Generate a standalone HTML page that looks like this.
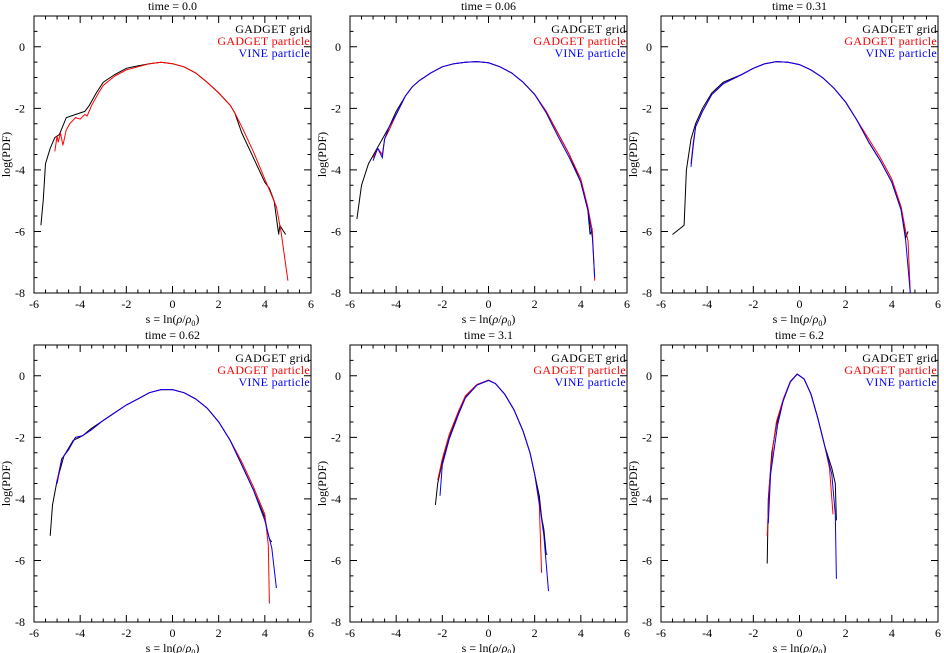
<!DOCTYPE html>
<html><head><meta charset="utf-8"><style>
html,body{margin:0;padding:0;background:#fff}
svg{display:block}
text{font-family:"Liberation Serif",serif;font-size:12px}
</style></head><body>
<svg id="fig" width="944" height="653" viewBox="0 0 944 653" xmlns="http://www.w3.org/2000/svg"></svg>
<script>
const panelTitles=["time = 0.0","time = 0.06","time = 0.31","time = 0.62","time = 3.1","time = 6.2"];
const xTicks=[-6,-4,-2,0,2,4,6];
const yTicks=[0,-2,-4,-6,-8];
const seriesNames=["GADGET grid","GADGET particle","VINE particle"];
const seriesColors=["#000","#f00","#00f"];
const grid0=[[-5.7,-5.8],[-5.6,-5.0],[-5.5,-3.8],[-5.3,-3.3],[-5.1,-2.95],[-4.9,-2.85],[-4.6,-2.3],[-4.2,-2.2],[-3.8,-2.1],[-3.6,-1.9],[-3.3,-1.5],[-3,-1.15],[-2.5,-0.9],[-2,-0.7],[-1.5,-0.62],[-1,-0.55],[-0.5,-0.5],[0,-0.55],[0.5,-0.65],[1,-0.85],[1.5,-1.15],[2,-1.5],[2.5,-1.9],[2.7,-2.15],[3,-2.8],[3.5,-3.6],[4,-4.4],[4.2,-4.6],[4.4,-5.0],[4.6,-6.1],[4.65,-5.8],[4.9,-6.1]];
const part0=[[-5.1,-3.4],[-5,-2.9],[-4.95,-3.1],[-4.85,-2.8],[-4.75,-3.2],[-4.6,-2.7],[-4.45,-2.5],[-4.2,-2.3],[-4.0,-2.35],[-3.8,-2.2],[-3.7,-2.25],[-3.5,-1.9],[-3.2,-1.5],[-3,-1.25],[-2.5,-0.95],[-2,-0.75],[-1.5,-0.65],[-1,-0.55],[-0.5,-0.5],[0,-0.55],[0.5,-0.65],[1,-0.85],[1.5,-1.15],[2,-1.5],[2.5,-1.9],[2.7,-2.15],[3,-2.6],[3.5,-3.4],[4,-4.3],[4.5,-5.2],[4.7,-6.0],[5.0,-7.6]];
const vine0=[];
const grid1=[[-5.7,-5.6],[-5.5,-4.5],[-5.2,-3.8],[-4.9,-3.4],[-4.6,-3.0],[-4.3,-2.6],[-4.0,-2.1],[-3.6,-1.6],[-3.3,-1.3],[-3,-1.1],[-2.5,-0.85],[-2,-0.65],[-1.5,-0.55],[-1,-0.5],[-0.5,-0.48],[0,-0.52],[0.5,-0.65],[1,-0.85],[1.5,-1.15],[2,-1.55],[2.5,-2.1],[3,-2.8],[3.5,-3.5],[4,-4.4],[4.3,-5.3],[4.4,-6.1],[4.5,-5.9]];
const part1=[[-5.0,-3.6],[-4.8,-3.3],[-4.6,-3.5],[-4.5,-3.0],[-4.3,-2.7],[-4.0,-2.2],[-3.6,-1.6],[-3.3,-1.3],[-3,-1.1],[-2.5,-0.85],[-2,-0.65],[-1.5,-0.55],[-1,-0.5],[-0.5,-0.48],[0,-0.52],[0.5,-0.65],[1,-0.85],[1.5,-1.15],[2,-1.55],[2.5,-2.1],[3,-2.8],[3.5,-3.5],[4,-4.3],[4.3,-5.2],[4.5,-6.0],[4.6,-7.6]];
const vine1=[[-5.0,-3.7],[-4.8,-3.3],[-4.6,-3.6],[-4.5,-3.0],[-4.3,-2.6],[-4.0,-2.2],[-3.6,-1.6],[-3.3,-1.3],[-3,-1.1],[-2.5,-0.85],[-2,-0.65],[-1.5,-0.55],[-1,-0.5],[-0.5,-0.48],[0,-0.52],[0.5,-0.65],[1,-0.85],[1.5,-1.15],[2,-1.55],[2.5,-2.15],[3,-2.9],[3.5,-3.6],[4,-4.4],[4.3,-5.3],[4.5,-6.2],[4.6,-7.5]];
const grid2=[[-5.5,-6.1],[-5.0,-5.8],[-4.9,-4.0],[-4.7,-3.0],[-4.5,-2.5],[-4.2,-2.0],[-3.8,-1.5],[-3.3,-1.15],[-2.5,-0.9],[-2,-0.7],[-1.5,-0.55],[-1,-0.48],[-0.5,-0.5],[0,-0.58],[0.5,-0.75],[1,-1.0],[1.5,-1.35],[2,-1.8],[2.5,-2.4],[3,-3.1],[3.5,-3.7],[4,-4.4],[4.4,-5.3],[4.6,-6.2],[4.7,-6.0]];
const part2=[[-4.7,-3.8],[-4.6,-3.1],[-4.5,-2.6],[-4.2,-2.1],[-3.8,-1.55],[-3.3,-1.2],[-2.5,-0.9],[-2,-0.7],[-1.5,-0.55],[-1,-0.48],[-0.5,-0.5],[0,-0.58],[0.5,-0.75],[1,-1.0],[1.5,-1.35],[2,-1.8],[2.5,-2.4],[3,-3.0],[3.5,-3.6],[4,-4.3],[4.4,-5.2],[4.6,-6.0],[4.7,-6.3],[4.8,-8.0]];
const vine2=[[-4.7,-3.9],[-4.6,-3.2],[-4.5,-2.6],[-4.2,-2.1],[-3.8,-1.55],[-3.3,-1.2],[-2.5,-0.9],[-2,-0.7],[-1.5,-0.55],[-1,-0.48],[-0.5,-0.5],[0,-0.58],[0.5,-0.75],[1,-1.0],[1.5,-1.35],[2,-1.8],[2.5,-2.4],[3,-3.1],[3.5,-3.7],[4,-4.4],[4.4,-5.3],[4.6,-6.3],[4.8,-8.0]];
const grid3=[[-5.3,-5.2],[-5.2,-4.2],[-5.0,-3.4],[-4.7,-2.6],[-4.3,-2.1],[-3.9,-1.95],[-3.5,-1.7],[-3,-1.45],[-2.5,-1.2],[-2,-0.95],[-1.5,-0.75],[-1,-0.55],[-0.5,-0.45],[0,-0.45],[0.5,-0.55],[1,-0.75],[1.5,-1.05],[2,-1.5],[2.5,-2.1],[3,-2.9],[3.5,-3.7],[4,-4.6],[4.1,-5.0],[4.2,-5.3],[4.3,-5.4]];
const part3=[[-5.0,-3.4],[-4.8,-2.7],[-4.5,-2.4],[-4.2,-2.0],[-3.9,-1.95],[-3.5,-1.75],[-3,-1.45],[-2.5,-1.2],[-2,-0.95],[-1.5,-0.75],[-1,-0.55],[-0.5,-0.45],[0,-0.45],[0.5,-0.55],[1,-0.75],[1.5,-1.05],[2,-1.5],[2.5,-2.1],[3,-2.8],[3.5,-3.6],[4,-4.5],[4.15,-5.5],[4.2,-7.4]];
const vine3=[[-5.0,-3.5],[-4.8,-2.7],[-4.5,-2.4],[-4.2,-2.0],[-3.9,-1.95],[-3.5,-1.75],[-3,-1.45],[-2.5,-1.2],[-2,-0.95],[-1.5,-0.75],[-1,-0.55],[-0.5,-0.45],[0,-0.45],[0.5,-0.55],[1,-0.75],[1.5,-1.05],[2,-1.5],[2.5,-2.1],[3,-2.9],[3.5,-3.7],[4,-4.7],[4.3,-5.6],[4.5,-6.9]];
const grid4=[[-2.3,-4.2],[-2.2,-3.5],[-2.0,-2.8],[-1.7,-2.0],[-1.3,-1.2],[-1,-0.7],[-0.5,-0.3],[0,-0.15],[0.3,-0.25],[0.7,-0.6],[1.1,-1.1],[1.5,-1.8],[1.8,-2.5],[2.0,-3.2],[2.2,-3.9],[2.3,-4.6],[2.4,-5.0],[2.5,-5.8],[2.55,-5.8]];
const part4=[[-2.2,-3.4],[-2.0,-2.7],[-1.7,-1.9],[-1.3,-1.15],[-1,-0.65],[-0.5,-0.28],[0,-0.14],[0.3,-0.25],[0.7,-0.6],[1.1,-1.1],[1.5,-1.8],[1.8,-2.5],[2.0,-3.2],[2.2,-4.2],[2.3,-6.4]];
const vine4=[[-2.1,-3.9],[-2.0,-2.9],[-1.7,-2.05],[-1.3,-1.25],[-1,-0.72],[-0.5,-0.3],[0,-0.15],[0.3,-0.25],[0.7,-0.6],[1.1,-1.1],[1.5,-1.8],[1.8,-2.5],[2.0,-3.2],[2.2,-4.1],[2.4,-5.2],[2.6,-7.0]];
const grid5=[[-1.4,-6.1],[-1.35,-4.0],[-1.2,-2.5],[-1.0,-1.6],[-0.7,-0.8],[-0.4,-0.2],[-0.1,0.05],[0.2,-0.1],[0.5,-0.6],[0.8,-1.4],[1.1,-2.3],[1.4,-3.0],[1.55,-3.5],[1.6,-4.7]];
const part5=[[-1.4,-5.2],[-1.3,-3.5],[-1.15,-2.3],[-1.0,-1.5],[-0.7,-0.75],[-0.4,-0.18],[-0.1,0.06],[0.2,-0.1],[0.5,-0.6],[0.8,-1.4],[1.1,-2.3],[1.3,-3.0],[1.45,-4.5]];
const vine5=[[-1.35,-4.8],[-1.25,-3.2],[-1.1,-2.4],[-0.95,-1.6],[-0.7,-0.8],[-0.4,-0.2],[-0.1,0.05],[0.2,-0.1],[0.5,-0.6],[0.8,-1.4],[1.1,-2.3],[1.4,-3.2],[1.55,-4.5],[1.6,-6.6]];
const panelSeries=[[grid0,part0,vine0],[grid1,part1,vine1],[grid2,part2,vine2],[grid3,part3,vine3],[grid4,part4,vine4],[grid5,part5,vine5]];

const NS="http://www.w3.org/2000/svg";
const svg=document.getElementById('fig');
function mk(t,a,p){const e=document.createElementNS(NS,t);for(const k in a)e.setAttribute(k,a[k]);(p||svg).appendChild(e);return e;}
const defs=mk('defs',{});
const lefts=[34,350,661], tops=[16,345], W=277, H=277;
for(let p=0;p<6;p++){
  const L=lefts[p%3], T=tops[Math.floor(p/3)];
  const sx=v=>L+(v+6)/12*W, sy=v=>T+(1-v)/9*H;
  const cp=mk('clipPath',{id:'clip'+p},defs);
  mk('rect',{x:L,y:T,width:W,height:H},cp);
  const g=mk('g',{});
  
  
  const fr=mk('rect',{x:L,y:T,width:W,height:H,fill:'none',stroke:'#000','stroke-width':1},g);
  
  
  let d='';
  for(let v=-6;v<=6.001;v+=0.5){const x=sx(v),len=(Math.abs(v%2)<0.01)?7:3.5;d+=`M${x},${T+H}v${-len}M${x},${T}v${len}`;}
  for(let v=-8;v<=1.001;v+=0.5){const y=sy(v),len=(Math.abs(v%2)<0.01)?7:3.5;d+=`M${L},${y}h${len}M${L+W},${y}h${-len}`;}
  const tk=mk('path',{d:d,stroke:'#000','stroke-width':1,fill:'none'},g);
  
  
  xTicks.forEach(v=>{const t=mk('text',{x:sx(v),y:T+H+15,'text-anchor':'middle'},g);t.textContent=v;
    
    });
  yTicks.forEach(v=>{const t=mk('text',{x:L-9,y:sy(v)+4,'text-anchor':'end'},g);t.textContent=v;
    
    });
  const xt=mk('text',{x:L+W/2,y:T+H+30,'text-anchor':'middle'},g);
  xt.innerHTML='s = ln(<tspan font-style="italic">ρ</tspan>/<tspan font-style="italic">ρ</tspan><tspan font-size="8" dy="3">0</tspan><tspan dy="-3">)</tspan>';
  
  
  const yt=mk('text',{x:0,y:0,'text-anchor':'middle',transform:`translate(${L-24},${T+H/2}) rotate(-90)`},g);
  yt.textContent='log(PDF)';
  
  
  const tt=mk('text',{x:L+W/2,y:T-6,'text-anchor':'middle'},g);
  tt.textContent=panelTitles[p];
  
  
  panelSeries[p].forEach((s,i)=>{
    if(!s.length)return;
    const pl=mk('polyline',{points:s.map(q=>sx(q[0]).toFixed(1)+','+sy(q[1]).toFixed(1)).join(' '),fill:'none',stroke:seriesColors[i],'stroke-width':1,'clip-path':'url(#clip'+p+')'},g);
    
    
  });
  seriesNames.forEach((n,i)=>{
    const t=mk('text',{x:L+W-1,y:T+17+i*12,'text-anchor':'end',fill:seriesColors[i],'font-size':'12.5','letter-spacing':'0.3'},g);
    t.textContent=n;
    
    
  });
}
</script>
</body></html>
